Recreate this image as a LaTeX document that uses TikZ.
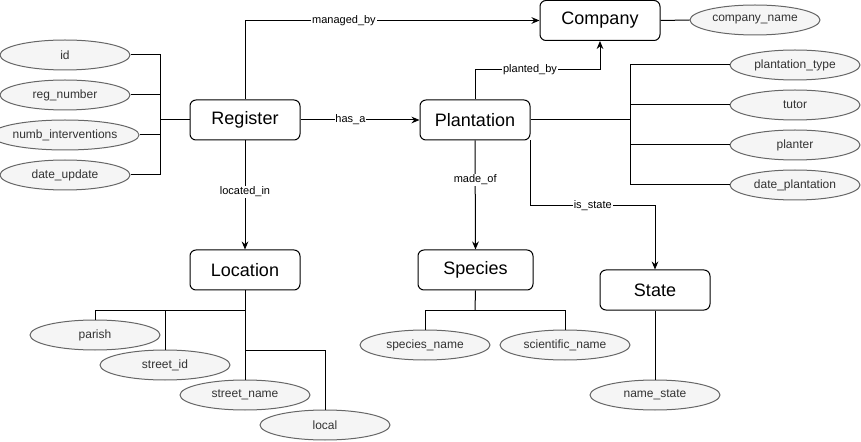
\documentclass[tikz,border=0pt]{standalone}
\usepackage{fontspec}
\setmainfont{Liberation Sans}
\usetikzlibrary{shapes.geometric,arrows.meta}
\definecolor{attrfill}{HTML}{F5F5F5}
\definecolor{attrline}{HTML}{666666}
\definecolor{attrtext}{HTML}{333333}
\begin{document}
\begin{tikzpicture}[x=0.75pt,y=-0.75pt,
  line width=0.75pt,
  entity/.style={draw=black,fill=white,rounded corners=4.5pt,minimum width=82.5pt,minimum height=30pt,inner sep=0pt,font=\fontsize{13.5}{16}\selectfont},
  attr/.style={ellipse,draw=attrline,fill=attrfill,minimum width=97.5pt,minimum height=22.5pt,inner sep=0pt,text=attrtext,font=\fontsize{9}{11}\selectfont},
  lbl/.style={fill=white,inner sep=0.6pt,font=\fontsize{8.25}{10}\selectfont},
  arr/.style={-{Stealth[length=6pt,width=5pt]}},
  conn/.style={draw=black}]
\useasboundingbox (0,0) rectangle (861,442);
% entities
\node[entity] (reg) at (245,120) {Register};
\node[entity] (plan) at (475,120) {Plantation};
\node[entity,minimum width=90pt] (comp) at (600,20.5) {Company};
\node[entity] (loc) at (245,270) {Location};
\node[entity,minimum width=86.25pt] (spec) at (475.5,270) {Species};
\node[entity] (state) at (655,290) {State};
% attributes
\node[attr] (id) at (65,55) {id};
\node[attr] (rn) at (65,95) {reg\_number};
\node[attr] (ni) at (65,135) {numb\_interventions};
\node[attr] (du) at (65,175) {date\_update};
\node[attr] (cn) at (755,20) {company\_name};
\node[attr] (pt) at (795,65) {plantation\_type};
\node[attr] (tu) at (795,105) {tutor};
\node[attr] (pl) at (795,145) {planter};
\node[attr] (dp) at (795,185) {date\_plantation};
\node[attr] (par) at (95,335) {parish};
\node[attr] (sid) at (165,365) {street\_id};
\node[attr] (sn) at (245,395) {street\_name};
\node[attr] (lo) at (325,425) {local};
\node[attr] (spn) at (425,345) {species\_name};
\node[attr] (scn) at (565,345) {scientific\_name};
\node[attr] (ns) at (655,395) {name\_state};
% junction coordinates
\coordinate (lb) at (160,120);
\coordinate (rb) at (630,120);
\coordinate (lj) at (245,310);
\coordinate (lk) at (245,350);
\coordinate (sj) at (475,310);
% relationships
\draw[arr] (reg.north) |- node[lbl,pos=0.668]{managed\_by} (comp.west);
\draw[arr] (reg.east) -- node[lbl,pos=0.42]{has\_a} (plan.west);
\draw[arr] (plan.north) -- ++(0,-30) -| node[lbl,pos=0.22]{planted\_by} (comp.south);
\draw[arr] (reg.south) -- node[lbl,pos=0.47]{located\_in} (loc.north);
\draw[arr] (plan.south) -- node[lbl,pos=0.36]{made\_of} (spec.north);
\draw[arr] (plan.south east) -- ++(0,65) -| node[lbl,pos=0.25]{is\_state} (state.north);
% attribute links
\draw (reg.west) -- (lb);
\draw (id.east) -| (lb);
\draw (rn.east) -| (lb);
\draw (ni.east) -| (lb);
\draw (du.east) -| (lb);
\draw (comp.east) -- (cn.west);
\draw (plan.east) -- (rb);
\draw (pt.west) -| (rb);
\draw (tu.west) -| (rb);
\draw (pl.west) -| (rb);
\draw (dp.west) -| (rb);
\draw (loc.south) -- (sn.north);
\draw (par.north) |- (lj);
\draw (sid.north) |- (lj);
\draw (lk) -| (lo.north);
\draw (spec.south) -- (sj);
\draw (spn.north) |- (sj);
\draw (scn.north) |- (sj);
\draw (state.south) -- (ns.north);
\end{tikzpicture}
\end{document}
